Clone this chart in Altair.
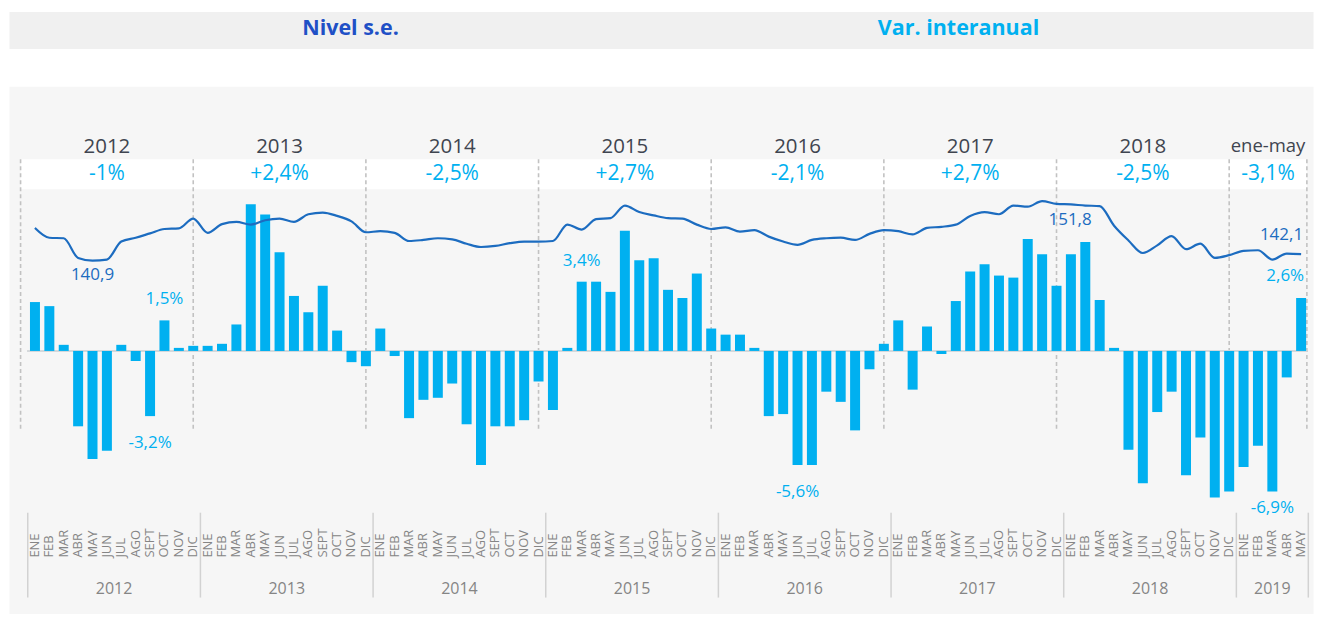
import altair as alt
import pandas as pd

# ---------------- data ----------------
months = ["ENE", "FEB", "MAR", "ABR", "MAY", "JUN", "JUL", "AGO", "SEPT", "OCT", "NOV", "DIC"]
years = [2012, 2013, 2014, 2015, 2016, 2017, 2018, 2019]

# Var. interanual (%)
var_2012 = [2.4, 2.2, 0.3, -3.7, -5.3, -4.9, 0.3, -0.5, -3.2, 1.5, 0.15, 0.25]
var_2013 = [0.25, 0.35, 1.3, 7.2, 6.7, 4.85, 2.7, 1.9, 3.2, 1.0, -0.55, -0.75]
var_2014 = [1.1, -0.25, -3.3, -2.4, -2.3, -1.6, -3.6, -5.6, -3.7, -3.7, -3.4, -1.5]
var_2015 = [-2.9, 0.15, 3.4, 3.4, 2.9, 5.9, 4.45, 4.55, 3.0, 2.6, 3.8, 1.1]
var_2016 = [0.8, 0.8, 0.15, -3.2, -3.1, -5.6, -5.6, -2.0, -2.5, -3.9, -0.9, 0.35]
var_2017 = [1.5, -1.9, 1.2, -0.15, 2.45, 3.9, 4.25, 3.7, 3.6, 5.5, 4.75, 3.2]
var_2018 = [4.75, 5.35, 2.5, 0.15, -4.85, -6.5, -3.0, -2.0, -6.1, -4.25, -7.2, -6.9]
var_2019 = [-5.7, -4.65, -6.9, -1.3, 2.6]

# Nivel s.e.
niv_2012 = [146.9, 145.1, 145.0, 141.4, 140.9, 141.1, 144.4, 145.1, 145.9, 146.7, 146.8, 148.6]
niv_2013 = [146.0, 147.6, 148.0, 147.5, 148.3, 148.6, 148.0, 149.4, 149.7, 149.1, 148.1, 146.1]
niv_2014 = [146.3, 146.0, 144.5, 144.7, 145.0, 144.8, 144.0, 143.4, 143.6, 144.1, 144.4, 144.4]
niv_2015 = [144.5, 147.5, 146.6, 148.5, 148.7, 151.0, 149.8, 149.2, 148.7, 148.6, 147.5, 146.7]
niv_2016 = [147.0, 146.2, 146.5, 145.3, 144.4, 143.8, 144.7, 145.0, 145.1, 144.7, 145.8, 146.5]
niv_2017 = [146.3, 145.7, 146.9, 147.1, 147.5, 149.1, 149.8, 149.4, 151.0, 150.8, 151.8, 151.3]
niv_2018 = [151.2, 151.0, 150.9, 147.3, 144.6, 142.3, 143.7, 145.4, 143.0, 144.0, 141.4, 141.9]
niv_2019 = [142.7, 142.8, 141.1, 142.2, 142.1]

period_labels = ["2012", "2013", "2014", "2015", "2016", "2017", "2018", "ene-may"]
period_avgs = ["-1%", "+2,4%", "-2,5%", "+2,7%", "-2,1%", "+2,7%", "-2,5%", "-3,1%"]

# annotated points (year, month)
bar_pos_labels = [(2012, "OCT"), (2015, "MAR")]
bar_last_label = [(2019, "MAY")]
bar_neg_labels = [(2012, "SEPT"), (2016, "JUN")]
bar_neg_label2 = [(2019, "MAR")]
line_min_label = [(2012, "MAY")]
line_max_label = [(2017, "NOV")]
line_last_label = [(2019, "MAY")]

# ---------------- tables ----------------
var_all = var_2012 + var_2013 + var_2014 + var_2015 + var_2016 + var_2017 + var_2018 + var_2019
niv_all = niv_2012 + niv_2013 + niv_2014 + niv_2015 + niv_2016 + niv_2017 + niv_2018 + niv_2019
rows = []
for i, (v, n) in enumerate(zip(var_all, niv_all)):
    rows.append({"i": i, "year": years[i // 12], "month": months[i % 12], "var": v, "nivel": n})
df = pd.DataFrame(rows)
df["var_txt"] = df["var"].map(lambda v: f"{v:.1f}%".replace(".", ","))
df["niv_txt"] = df["nivel"].map(lambda v: f"{v:.1f}".replace(".", ","))
last_i = len(df) - 1


def idx(pairs):
    return [(y - years[0]) * 12 + months.index(m) for y, m in pairs]


def sub(pairs):
    return df[df["i"].isin(idx(pairs))]


# year separators (dashed) and bottom-axis separators
sep_x = [12 * k - 1 for k in range(len(years))] + [last_i + 0.4]
sep_df = pd.DataFrame({"x": sep_x})
band_df = pd.DataFrame({"x0": [sep_x[0]], "x1": [sep_x[-1]]})
per_df = pd.DataFrame({
    "x": [(a + b) / 2 for a, b in zip(sep_x[:-1], sep_x[1:])],
    "label": period_labels,
    "avg": period_avgs,
})
axsep_df = pd.DataFrame({"x": [12 * k - 0.5 for k in range(len(years))] + [last_i + 0.5]})
yr_df = pd.DataFrame({
    "x": [(df[df.year == y]["i"].min() + df[df.year == y]["i"].max()) / 2 for y in years],
    "year": [str(y) for y in years],
})

# ---------------- styling ----------------
FONT = "Open Sans"
BAR = "#00b0f0"
LINE = "#1c6cc0"
W = 1306
H = 528
OFF = 2          # vertical fine-tuning of the main panel content (px)
ZERO_PX = 263 + OFF
LINE_TOP_PX = 113 + OFF

xs = alt.Scale(domain=[-1.8043, 88.826], nice=False, zero=False, padding=0)
ybar = alt.Scale(domain=[-(H - ZERO_PX) / 20.4, ZERO_PX / 20.4], nice=False, zero=False, padding=0)
yline = alt.Scale(domain=[151.8 - (H - LINE_TOP_PX) / 5.464, 151.8 + LINE_TOP_PX / 5.464],
                  nice=False, zero=False, padding=0)

X = alt.X("i:Q", scale=xs, axis=None)

band = alt.Chart(band_df).mark_rect(color="white").encode(
    x=alt.X("x0:Q", scale=xs, axis=None), x2="x1:Q",
    y=alt.value(71 + OFF), y2=alt.value(101 + OFF))

dashed = alt.Chart(sep_df).mark_rule(color="#c2c2c2", strokeDash=[4, 3], strokeWidth=1.6).encode(
    x=alt.X("x:Q", scale=xs, axis=None), y=alt.value(71 + OFF), y2=alt.value(343 + OFF))

zero = alt.Chart(band_df).mark_rule(color="#d4d8db", strokeWidth=2).encode(
    x=alt.X(datum=-0.55, scale=xs, axis=None), x2=alt.X2(datum=last_i + 0.4),
    y=alt.Y(datum=0, scale=ybar, axis=None))

bars = alt.Chart(df).mark_bar(size=10, color=BAR).encode(
    x=X, y=alt.Y("var:Q", scale=ybar, axis=None, stack=None), y2=alt.Y2(datum=0))

line = alt.Chart(df).mark_line(color=LINE, strokeWidth=2.2, interpolate="monotone").encode(
    x=X, y=alt.Y("nivel:Q", scale=yline, axis=None))

txt = dict(font=FONT, fontSize=17, baseline="middle")
lab_pos = alt.Chart(sub(bar_pos_labels)).mark_text(color=BAR, dy=-21, **txt).encode(
    x=X, y=alt.Y("var:Q", scale=ybar, axis=None), text="var_txt:N")
lab_last = alt.Chart(sub(bar_last_label)).mark_text(color=BAR, dy=-22, dx=3, align="right", **txt).encode(
    x=X, y=alt.Y("var:Q", scale=ybar, axis=None), text="var_txt:N")
lab_neg = alt.Chart(sub(bar_neg_labels)).mark_text(color=BAR, dy=27, **txt).encode(
    x=X, y=alt.Y("var:Q", scale=ybar, axis=None), text="var_txt:N")
lab_neg2 = alt.Chart(sub(bar_neg_label2)).mark_text(color=BAR, dy=17, **txt).encode(
    x=X, y=alt.Y("var:Q", scale=ybar, axis=None), text="var_txt:N")

lab_min = alt.Chart(sub(line_min_label)).mark_text(color=LINE, dy=14, **txt).encode(
    x=X, y=alt.Y("nivel:Q", scale=yline, axis=None), text="niv_txt:N")
lab_max = alt.Chart(sub(line_max_label)).mark_text(color=LINE, dy=19, dx=28, **txt).encode(
    x=X, y=alt.Y("nivel:Q", scale=yline, axis=None), text="niv_txt:N")
lab_lastl = alt.Chart(sub(line_last_label)).mark_text(color=LINE, dy=-19, dx=2, align="right", **txt).encode(
    x=X, y=alt.Y("nivel:Q", scale=yline, axis=None), text="niv_txt:N")

years_top = alt.Chart(per_df.iloc[:-1]).mark_text(font=FONT, fontSize=20.5, color="#3f4550", baseline="middle").encode(
    x=alt.X("x:Q", scale=xs, axis=None), y=alt.value(59 + OFF), text="label:N")
ytd_top = alt.Chart(per_df.iloc[-1:]).mark_text(font=FONT, fontSize=18.5, color="#3f4550", baseline="middle").encode(
    x=alt.X("x:Q", scale=xs, axis=None), y=alt.value(58 + OFF), text="label:N")
avgs = alt.Chart(per_df).mark_text(font=FONT, fontSize=21, color=BAR, baseline="middle").encode(
    x=alt.X("x:Q", scale=xs, axis=None), y=alt.value(86 + OFF), text="avg:N")

month_lbl = alt.Chart(df).mark_text(font=FONT, fontSize=13, color="#858585", angle=270,
                                     align="left", baseline="middle").encode(
    x=X, y=alt.value(470 + OFF), text="month:N")
axsep = alt.Chart(axsep_df).mark_rule(color="#d2d2d2", strokeWidth=1.5).encode(
    x=alt.X("x:Q", scale=xs, axis=None), y=alt.value(425 + OFF), y2=alt.value(510 + OFF))
year_bottom = alt.Chart(yr_df).mark_text(font=FONT, fontSize=16, color="#858585", baseline="middle").encode(
    x=alt.X("x:Q", scale=xs, axis=None), y=alt.value(501 + OFF), text="year:N")

main = alt.layer(
    band, dashed, zero, bars, line,
    lab_pos, lab_last, lab_neg, lab_neg2, lab_min, lab_max, lab_lastl,
    years_top, ytd_top, avgs, month_lbl, axsep, year_bottom,
).resolve_scale(y="independent").properties(
    width=W, height=H, view=alt.ViewBackground(fill="#f6f6f6", stroke="transparent"))

head_txt = dict(font=FONT, fontSize=21.5, fontWeight="bold", baseline="middle")
h1 = alt.Chart(pd.DataFrame({"t": ["Nivel s.e."]})).mark_text(color="#1f50c6", **head_txt).encode(
    x=alt.value(342), y=alt.value(18), text="t:N")
h2 = alt.Chart(pd.DataFrame({"t": ["Var. interanual"]})).mark_text(color=BAR, **head_txt).encode(
    x=alt.value(951), y=alt.value(18), text="t:N")
header = alt.layer(h1, h2).properties(
    width=W, height=37, view=alt.ViewBackground(fill="#f0f0f0", stroke="transparent"))

chart = alt.vconcat(header, main, spacing=36).properties(
    padding={"left": 0, "top": 2, "right": 0, "bottom": 0}
).configure(font=FONT).configure_view(stroke="transparent")

chart.save("out.html", embed_options={"renderer": "svg", "actions": False})
